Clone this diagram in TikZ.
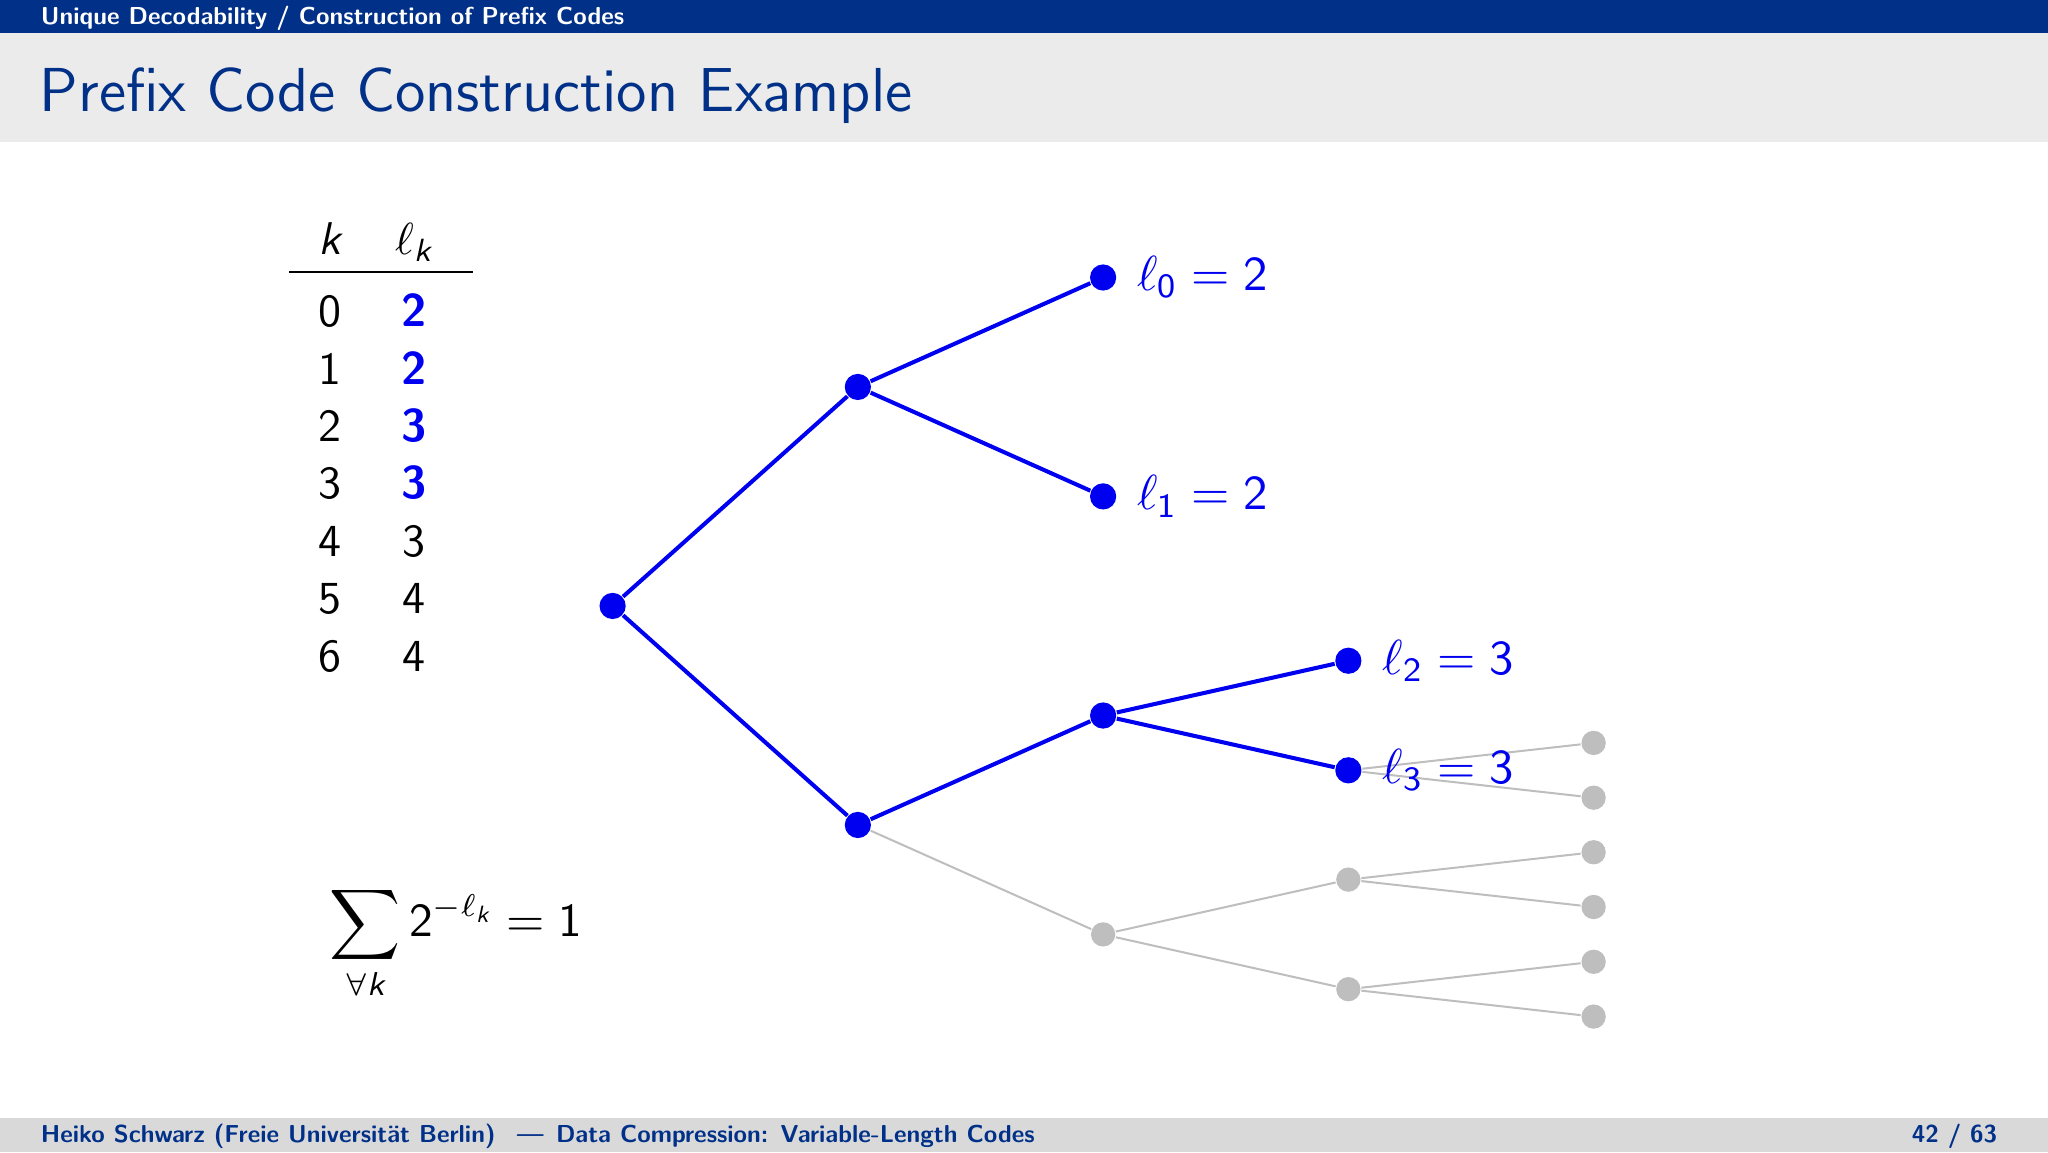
\documentclass[tikz,border=0pt]{standalone}
\usepackage{amsmath}
\usepackage{fontspec}
\usetikzlibrary{positioning}

\definecolor{Cfunavy}{HTML}{003087}
\definecolor{Ctitlegray}{HTML}{EBEBEB}
\definecolor{Cfootgray}{HTML}{D9D9D9}
\definecolor{Ctreeblue}{HTML}{0000F0}
\definecolor{Ctreegray}{HTML}{BEBEBE}

\newcommand{\vk}{\textsf{\itshape k}}

\tikzset{
	bluedot/.style={circle,fill=Ctreeblue,inner sep=0pt,minimum size=0.205cm},
	graydot/.style={circle,fill=Ctreegray,inner sep=0pt,minimum size=0.19cm},
	blueedge/.style={Ctreeblue,line width=0.9pt},
	grayedge/.style={Ctreegray,line width=0.45pt},
	lenlabel/.style={text=Ctreeblue,font=\fontsize{10.8}{13}\selectfont,anchor=west,inner sep=0pt},
	tabentry/.style={font=\fontsize{10.2}{12}\selectfont\sffamily,anchor=base,inner sep=0pt},
	barfont/.style={font=\fontsize{5.45}{6.5}\selectfont\sffamily\bfseries},
}

\begin{document}
\begin{tikzpicture}
		\useasboundingbox (0,0) rectangle (16,9);
		% slide frame
		\fill[Cfunavy] (0,9) rectangle (16,8.742);
		\fill[Ctitlegray] (0,8.742) rectangle (16,7.891);
		\fill[Cfootgray] (0,0) rectangle (16,0.266);
		\node[barfont,anchor=base west,inner sep=0pt,text=white] (headline) at (0.312,8.805) {Unique Decodability / Construction of Prefix Codes};
		\node[anchor=base west,inner sep=0pt,text=Cfunavy,font=\fontsize{13.8}{16}\selectfont\sffamily] (frametitle) at (0.305,8.13) {Prefix Code Construction Example};
		\node[barfont,anchor=base west,inner sep=0pt,text=Cfunavy] (footleft) at (0.312,0.075) {Heiko Schwarz (Freie Universität Berlin) \enspace---\enspace Data Compression:\enspace Variable-Length Codes};
		\node[barfont,anchor=base east,inner sep=0pt,text=Cfunavy] (footright) at (15.61,0.075) {42 / 63};
		% table of code word lengths
		\node[tabentry] (hk) at (2.578,7.008) {$\vk$};
		\node[tabentry] (hl) at (3.234,7.008) {$\ell_{\vk}$};
		\draw[line width=0.45pt] (2.258,6.875) -- (3.695,6.875);
		\node[tabentry] (k0) at (2.578,6.449) {0};
		\node[tabentry] (k1) at (2.578,6.000) {1};
		\node[tabentry] (k2) at (2.578,5.551) {2};
		\node[tabentry] (k3) at (2.578,5.102) {3};
		\node[tabentry] (k4) at (2.578,4.653) {4};
		\node[tabentry] (k5) at (2.578,4.204) {5};
		\node[tabentry] (k6) at (2.578,3.755) {6};
		\node[tabentry,text=Ctreeblue] (l0) at (3.234,6.449) {\bfseries 2};
		\node[tabentry,text=Ctreeblue] (l1) at (3.234,6.000) {\bfseries 2};
		\node[tabentry,text=Ctreeblue] (l2) at (3.234,5.551) {\bfseries 3};
		\node[tabentry,text=Ctreeblue] (l3) at (3.234,5.102) {\bfseries 3};
		\node[tabentry] (l4) at (3.234,4.653) {3};
		\node[tabentry] (l5) at (3.234,4.204) {4};
		\node[tabentry] (l6) at (3.234,3.755) {4};
		% Kraft sum
		\node[anchor=base west,inner sep=0pt,font=\fontsize{10.5}{12.5}\selectfont] (kraft) at (2.57,1.68) {$\displaystyle\sum_{\forall\vk}\mathsf{2}^{-\ell_{\vk}}=\mathsf{1}$};
		% code tree
		\node[bluedot] (r) at (4.786,4.266) {};
		\node[bluedot] (n0) at (6.702,5.977) {};
		\node[bluedot] (n1) at (6.702,2.555) {};
		\node[bluedot] (n00) at (8.618,6.832) {};
		\node[bluedot] (n01) at (8.618,5.122) {};
		\node[bluedot] (n10) at (8.618,3.410) {};
		\node[graydot] (n11) at (8.618,1.700) {};
		\node[bluedot] (n100) at (10.534,3.838) {};
		\node[bluedot] (n101) at (10.534,2.982) {};
		\node[graydot] (n110) at (10.534,2.128) {};
		\node[graydot] (n111) at (10.534,1.272) {};
		\node[graydot] (n1010) at (12.45,3.196) {};
		\node[graydot] (n1011) at (12.45,2.768) {};
		\node[graydot] (n1100) at (12.45,2.342) {};
		\node[graydot] (n1101) at (12.45,1.914) {};
		\node[graydot] (n1110) at (12.45,1.486) {};
		\node[graydot] (n1111) at (12.45,1.058) {};
		\draw[blueedge] (r) -- (n0);
		\draw[blueedge] (r) -- (n1);
		\draw[blueedge] (n0) -- (n00);
		\draw[blueedge] (n0) -- (n01);
		\draw[blueedge] (n1) -- (n10);
		\draw[blueedge] (n10) -- (n100);
		\draw[blueedge] (n10) -- (n101);
		\draw[grayedge] (n1) -- (n11);
		\draw[grayedge] (n11) -- (n110);
		\draw[grayedge] (n11) -- (n111);
		\draw[grayedge] (n101) -- (n1010);
		\draw[grayedge] (n101) -- (n1011);
		\draw[grayedge] (n110) -- (n1100);
		\draw[grayedge] (n110) -- (n1101);
		\draw[grayedge] (n111) -- (n1110);
		\draw[grayedge] (n111) -- (n1111);
		\node[lenlabel,right=0.15cm of n00] (len0) {$\ell_{\mathsf{0}}=\mathsf{2}$};
		\node[lenlabel,right=0.15cm of n01] (len1) {$\ell_{\mathsf{1}}=\mathsf{2}$};
		\node[lenlabel,right=0.15cm of n100] (len2) {$\ell_{\mathsf{2}}=\mathsf{3}$};
		\node[lenlabel,right=0.15cm of n101] (len3) {$\ell_{\mathsf{3}}=\mathsf{3}$};
	\end{tikzpicture}
\end{document}
